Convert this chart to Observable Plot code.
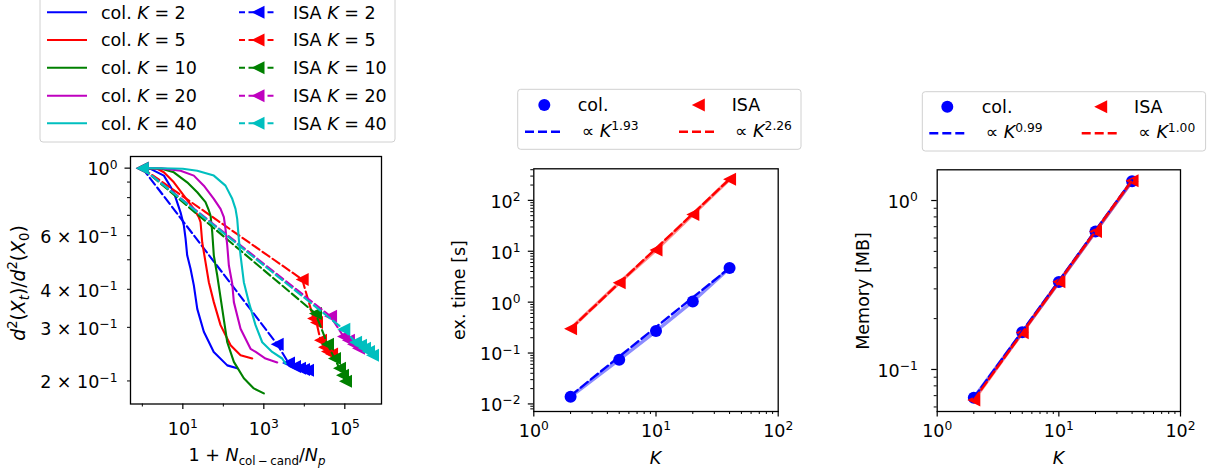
<!DOCTYPE html>
<html><head><meta charset="utf-8">
<script src="https://cdn.jsdelivr.net/npm/d3@7"></script>
<script src="https://cdn.jsdelivr.net/npm/@observablehq/plot@0.6"></script>
<style>
body{margin:0;background:#fff;}
#wrap{position:relative;width:1212px;height:475px;overflow:hidden;font-family:"DejaVu Sans",sans-serif;}
</style></head><body><div id="wrap"></div>
<script>
// ---------------- DATA ----------------
const Ks = [2, 5, 10, 20, 40];
const kLabels = ["2", "5", "10", "20", "40"];

// Panel 1: convergence curves (col. = solid, ISA = dashed with markers)
const col_K2_x  = [1, 1.59, 3.40, 6.0, 8.77, 10.6, 11.7, 12.8, 15.5, 18.7, 22.7, 33, 58, 125, 220];
const col_K2_y  = [1, 0.994, 0.945, 0.833, 0.716, 0.648, 0.586, 0.517, 0.467, 0.412, 0.345, 0.290, 0.249, 0.225, 0.220];
const col_K5_x  = [1, 2.33, 3.40, 6.0, 10.6, 18.7, 24.8, 27.4, 30.1, 36.3, 43.9, 58.2, 85.3, 151, 266, 517];
const col_K5_y  = [1, 0.995, 0.969, 0.898, 0.813, 0.735, 0.690, 0.664, 0.571, 0.491, 0.422, 0.363, 0.305, 0.262, 0.243, 0.237];
const col_K10_x = [1, 3.0, 6.0, 12.8, 22.7, 36.3, 43.9, 48.3, 53.2, 58.2, 70.7, 94, 125, 182, 321, 566, 1000];
const col_K10_y = [1, 0.995, 0.969, 0.898, 0.833, 0.773, 0.726, 0.699, 0.616, 0.517, 0.444, 0.345, 0.268, 0.231, 0.204, 0.189, 0.182];
const col_K20_x = [1, 3.0, 8.77, 18.7, 33, 58.2, 85.3, 103, 113, 125, 137, 166, 182, 266, 470, 631, 1100, 2140];
const col_K20_y = [1, 0.998, 0.981, 0.945, 0.876, 0.793, 0.735, 0.690, 0.632, 0.557, 0.479, 0.417, 0.363, 0.297, 0.255, 0.249, 0.237, 0.230];
const col_K40_x = [1, 3.0, 10, 22.7, 58.2, 113, 166, 200, 220, 241, 266, 321, 426, 624, 913, 1610, 2845, 3435];
const col_K40_y = [1, 0.999, 0.995, 0.981, 0.945, 0.876, 0.793, 0.735, 0.681, 0.586, 0.517, 0.422, 0.363, 0.305, 0.268, 0.249, 0.237, 0.228];

const isa_K2_x  = [1, 2140, 4070, 5730, 7610, 9550, 12000];
const isa_K2_y  = [1, 0.264, 0.229, 0.223, 0.220, 0.218, 0.217];
const isa_K5_x  = [1, 8870, 16900, 20000, 25100, 31500, 37400, 47000];
const isa_K5_y  = [1, 0.431, 0.321, 0.311, 0.272, 0.258, 0.250, 0.245];
const isa_K10_x = [1, 18900, 37400, 55700, 74000, 87700, 104000];
const isa_K10_y = [1, 0.333, 0.264, 0.237, 0.220, 0.209, 0.1995];
const isa_K20_x = [1, 44400, 92900, 123000, 164000, 218000];
const isa_K20_y = [1, 0.326, 0.280, 0.272, 0.264, 0.256];
const isa_K40_x = [1, 94400, 184000, 244000, 306000, 385000, 483000];
const isa_K40_y = [1, 0.2955, 0.268, 0.262, 0.256, 0.250, 0.243];

// Panel 2: execution time [s]
const time_col = [0.0139, 0.074, 0.27, 1.03, 4.7];
const time_isa = [0.30, 2.4, 10.6, 53, 260];
const fit_K = [2, 40];
const time_col_fit = [0.0145, 4.7];
const time_isa_fit = [0.30, 261];
const time_col_exp = "1.93";
const time_isa_exp = "2.26";

// Panel 3: memory [MB]
const mem_col = [0.068, 0.166, 0.329, 0.655, 1.30];
const mem_isa = [0.066, 0.165, 0.33, 0.655, 1.31];
const mem_col_fit = [0.068, 1.32];
const mem_isa_fit = [0.066, 1.32];
const mem_col_exp = "0.99";
const mem_isa_exp = "1.00";

// tick labels
const p1XTicks = [10, 1000, 100000];
const p1XTickLabels = ["10^1", "10^3", "10^5"];
const p1XMinor = [1, 100, 10000];
const p1YMajor = [1];
const p1YMajorLabels = ["10^0"];
const p1YMinor = [0.2, 0.3, 0.4, 0.5, 0.6, 0.7, 0.8, 0.9];
const p1YMinorLabels = ["2 × 10^-1", "3 × 10^-1", "4 × 10^-1", "", "6 × 10^-1", "", "", ""];
const kTicks = [1, 10, 100];
const kTickLabels = ["10^0", "10^1", "10^2"];
const timeTicks = [0.01, 0.1, 1, 10, 100];
const timeTickLabels = ["10^-2", "10^-1", "10^0", "10^1", "10^2"];
const memTicks = [0.1, 1];
const memTickLabels = ["10^-1", "10^0"];

// ---------------- STYLE ----------------
const FS = 17.5, SUPFS = 12.3, SUPDY = -6.8, SUBDY = 4;
const colors = ["#0000ff", "#ff0000", "#008000", "#bf00bf", "#00bfbf"];
const DASH = "8.5,3.7";
const STYLE = {fontFamily: '"DejaVu Sans", sans-serif', fontSize: FS + "px", color: "black", background: "transparent", overflow: "visible"};
const triSym = {draw(ctx, size) { const h = Math.sqrt(size / Math.PI); ctx.moveTo(-h, 0); ctx.lineTo(h, -h); ctx.lineTo(h, h); ctx.closePath(); }};

function minorTicks(lo, hi) {
  const out = [];
  for (let e = Math.floor(Math.log10(lo)); e <= Math.ceil(Math.log10(hi)); e++)
    for (let m = 2; m <= 9; m++) { const v = +(m * Math.pow(10, e)).toPrecision(6); if (v >= lo && v <= hi) out.push(v); }
  return out;
}
const lab = (ticks, labels) => d => { const i = ticks.indexOf(d); return i < 0 ? "" : labels[i]; };

const wrap = document.getElementById("wrap");
const SVGNS = "http://www.w3.org/2000/svg";
function supify(svg, yAxisEm) {
  svg.querySelectorAll("text").forEach(t => {
    const s = t.textContent;
    const i = s.indexOf("^");
    if (i < 0) return;
    const base = s.slice(0, i), exp = s.slice(i + 1).replace("-", "\u2212");
    while (t.firstChild) t.removeChild(t.firstChild);
    t.appendChild(document.createTextNode(base));
    const ts = document.createElementNS(SVGNS, "tspan");
    ts.setAttribute("dy", String(SUPDY));
    ts.setAttribute("font-size", String(SUPFS));
    ts.textContent = exp;
    t.appendChild(ts);
  });
  svg.querySelectorAll('g[aria-label="y-axis tick label"] text').forEach(t => t.setAttribute("y", yAxisEm));
}
function place(el, left) { el.style.position = "absolute"; el.style.left = left + "px"; el.style.top = "0px"; wrap.appendChild(el); }

// ---------------- PANEL 1 ----------------
const colXs = [col_K2_x, col_K5_x, col_K10_x, col_K20_x, col_K40_x];
const colYs = [col_K2_y, col_K5_y, col_K10_y, col_K20_y, col_K40_y];
const isaXs = [isa_K2_x, isa_K5_x, isa_K10_x, isa_K20_x, isa_K40_x];
const isaYs = [isa_K2_y, isa_K5_y, isa_K10_y, isa_K20_y, isa_K40_y];
const p1Marks = [];
Ks.forEach((K, i) => {
  const colRows = colXs[i].map((x, j) => ({x, y: colYs[i][j]}));
  const isaRows = isaXs[i].map((x, j) => ({x, y: isaYs[i][j]}));
  p1Marks.push(Plot.line(colRows, {x: "x", y: "y", stroke: colors[i], strokeWidth: 2.1}));
  p1Marks.push(Plot.line(isaRows, {x: "x", y: "y", stroke: colors[i], strokeWidth: 2.1, strokeDasharray: DASH}));
  p1Marks.push(Plot.dot(isaRows, {x: "x", y: "y", fill: colors[i], symbol: triSym, r: 6.5}));
});
const p1 = Plot.plot({
  width: 400, height: 475, marginLeft: 130, marginRight: 19, marginTop: 156, marginBottom: 71.5,
  style: STYLE,
  x: {type: "log", domain: [0.51, 8.05e5]},
  y: {type: "log", domain: [0.168, 1.092]},
  marks: [
    Plot.axisX({ticks: p1XTicks, tickFormat: lab(p1XTicks, p1XTickLabels), tickSize: 5.5, tickPadding: 13.2, label: null, strokeWidth: 1.2}),
    Plot.axisX({ticks: p1XMinor, tickFormat: () => "", tickSize: 3, label: null, strokeWidth: 1}),
    Plot.axisY({ticks: p1YMajor, tickFormat: lab(p1YMajor, p1YMajorLabels), tickSize: 5.5, tickPadding: 7.5, label: null, strokeWidth: 1.2}),
    Plot.axisY({ticks: p1YMinor, tickFormat: lab(p1YMinor, p1YMinorLabels), tickSize: 3, tickPadding: 10, label: null, strokeWidth: 1}),
    ...p1Marks,
    Plot.frame({stroke: "black", strokeWidth: 1.3})
  ]
});
supify(p1, "0.42em");
place(p1, 0);

// ---------------- PANELS 2 & 3 ----------------
function kPanel({left, width, mL, mR, mT, mB, yDomain, yTicks, yTickLabels, col, isa, colFit, isaFit, yPad}) {
  const colRows = Ks.map((K, i) => ({K, v: col[i]}));
  const isaRows = Ks.map((K, i) => ({K, v: isa[i]}));
  const colFitRows = fit_K.map((K, i) => ({K, v: colFit[i]}));
  const isaFitRows = fit_K.map((K, i) => ({K, v: isaFit[i]}));
  const svg = Plot.plot({
    width, height: 475, marginLeft: mL, marginRight: mR, marginTop: mT, marginBottom: mB,
    style: STYLE,
    x: {type: "log", domain: [1, 100]},
    y: {type: "log", domain: yDomain},
    marks: [
      Plot.axisX({ticks: kTicks, tickFormat: lab(kTicks, kTickLabels), tickSize: 5.5, tickPadding: 7.2, label: null, strokeWidth: 1.2}),
      Plot.axisX({ticks: minorTicks(1, 100), tickFormat: () => "", tickSize: 3, label: null, strokeWidth: 1}),
      Plot.axisY({ticks: yTicks, tickFormat: lab(yTicks, yTickLabels), tickSize: 5.5, tickPadding: yPad, label: null, strokeWidth: 1.2}),
      Plot.axisY({ticks: minorTicks(yDomain[0], yDomain[1]), tickFormat: () => "", tickSize: 3, label: null, strokeWidth: 1}),
      Plot.line(colRows, {x: "K", y: "v", stroke: colors[0], strokeWidth: 3.5, strokeOpacity: 0.45}),
      Plot.dot(colRows, {x: "K", y: "v", fill: colors[0], r: 6}),
      Plot.line(isaRows, {x: "K", y: "v", stroke: colors[1], strokeWidth: 3.5, strokeOpacity: 0.45}),
      Plot.dot(isaRows, {x: "K", y: "v", fill: colors[1], symbol: triSym, r: 6.5}),
      Plot.line(colFitRows, {x: "K", y: "v", stroke: colors[0], strokeWidth: 2.4, strokeDasharray: "9,4"}),
      Plot.line(isaFitRows, {x: "K", y: "v", stroke: colors[1], strokeWidth: 2.4, strokeDasharray: "9,4"}),
      Plot.frame({stroke: "black", strokeWidth: 1.3})
    ]
  });
  supify(svg, "0.42em");
  place(svg, left);
}
kPanel({left: 420, width: 390, mL: 113.3, mR: 32.3, mT: 168.3, mB: 64, yDomain: [0.0071, 417],
  yTicks: timeTicks, yTickLabels: timeTickLabels, col: time_col, isa: time_isa, colFit: time_col_fit, isaFit: time_isa_fit, yPad: 7.8});
kPanel({left: 830, width: 382, mL: 106.7, mR: 32, mT: 169.3, mB: 64, yDomain: [0.0564, 1.52],
  yTicks: memTicks, yTickLabels: memTickLabels, col: mem_col, isa: mem_isa, colFit: mem_col_fit, isaFit: mem_isa_fit, yPad: 13.9});

// ---------------- OVERLAY: legends & axis labels ----------------
const ov = d3.select(wrap).append("svg").attr("width", 1212).attr("height", 475)
  .style("position", "absolute").style("left", "0px").style("top", "0px")
  .attr("font-family", '"DejaVu Sans", sans-serif').attr("font-size", FS).attr("fill", "black");

function rich(g, x, y, segs, anchor = "start", transform = null, fs = FS, sfs = SUPFS) {
  const t = g.append("text").attr("text-anchor", anchor).attr("font-size", fs);
  if (transform) t.attr("transform", transform); else t.attr("x", x).attr("y", y);
  let shift = 0;
  const k = fs / FS;
  for (const s of segs) {
    const target = (s.sup ? SUPDY : s.sub ? SUBDY : 0) * k;
    const ts = t.append("tspan").text(s.t).attr("dy", target - shift);
    shift = target;
    if (s.it) ts.attr("font-style", "italic");
    if (s.sup || s.sub) ts.attr("font-size", sfs);
  }
  return t;
}
const triPath = (cx, cy, h) => `M${cx - h},${cy}L${cx + h},${cy - h}L${cx + h},${cy + h}Z`;

// Legend 1
const L1 = ov.append("g");
L1.append("rect").attr("x", 40).attr("y", -4).attr("width", 355).attr("height", 146).attr("rx", 3)
  .attr("fill", "white").attr("fill-opacity", 0.8).attr("stroke", "#d0d0d0").attr("stroke-width", 1);
const rowY = [12.3, 40, 67.7, 95.7, 123.3];
Ks.forEach((K, i) => {
  const y = rowY[i];
  L1.append("line").attr("x1", 47).attr("x2", 87).attr("y1", y).attr("y2", y).attr("stroke", colors[i]).attr("stroke-width", 2.1);
  rich(L1, 101, y + 6.3, [{t: "col. "}, {t: "K", it: true}, {t: " = " + kLabels[i]}]);
  L1.append("line").attr("x1", 239).attr("x2", 277).attr("y1", y).attr("y2", y).attr("stroke", colors[i]).attr("stroke-width", 2.1).attr("stroke-dasharray", "6,3.5");
  L1.append("path").attr("d", triPath(258, y, 6.5)).attr("fill", colors[i]);
  rich(L1, 293, y + 6.3, [{t: "ISA "}, {t: "K", it: true}, {t: " = " + kLabels[i]}]);
});

function kLegend(x0, y0, w, h, r1, r2, colExp, isaExp, off) {
  const g = ov.append("g");
  g.append("rect").attr("x", x0).attr("y", y0).attr("width", w).attr("height", h).attr("rx", 3)
    .attr("fill", "white").attr("fill-opacity", 0.8).attr("stroke", "#d0d0d0").attr("stroke-width", 1);
  g.append("circle").attr("cx", x0 + off.c).attr("cy", r1).attr("r", 6).attr("fill", colors[0]);
  rich(g, x0 + off.colT, r1 + 6.3, [{t: "col."}]);
  g.append("path").attr("d", triPath(x0 + off.tri, r1, 6.5)).attr("fill", colors[1]);
  rich(g, x0 + off.isaT, r1 + 6.3, [{t: "ISA"}]);
  g.append("line").attr("x1", x0 + off.l1a).attr("x2", x0 + off.l1b).attr("y1", r2).attr("y2", r2).attr("stroke", colors[0]).attr("stroke-width", 2.4).attr("stroke-dasharray", "9,4");
  rich(g, x0 + off.t1, r2 + 5, [{t: "\u221d "}, {t: "K", it: true}, {t: colExp, sup: true}]);
  g.append("line").attr("x1", x0 + off.l2a).attr("x2", x0 + off.l2b).attr("y1", r2).attr("y2", r2).attr("stroke", colors[1]).attr("stroke-width", 2.4).attr("stroke-dasharray", "9,4");
  rich(g, x0 + off.t2, r2 + 5, [{t: "\u221d "}, {t: "K", it: true}, {t: isaExp, sup: true}]);
}
kLegend(517.7, 89.3, 283.3, 60, 105, 131.7, time_col_exp, time_isa_exp,
  {c: 26.6, colT: 60, tri: 180.6, isaT: 214, l1a: 7.3, l1b: 45, t1: 64, l2a: 161.3, l2b: 198.3, t2: 217.3});
kLegend(922.3, 91.7, 283.3, 59.3, 106.7, 133.3, mem_col_exp, mem_isa_exp,
  {c: 25, colT: 59.4, tri: 178.4, isaT: 211.7, l1a: 7, l1b: 44.4, t1: 63.4, l2a: 159.4, l2b: 197, t2: 216});

// axis labels
rich(ov, 0, 0, [{t: "d", it: true}, {t: "2", sup: true}, {t: "("}, {t: "X", it: true}, {t: "t", it: true, sub: true}, {t: ")/"},
  {t: "d", it: true}, {t: "2", sup: true}, {t: "("}, {t: "X", it: true}, {t: "0", sub: true}, {t: ")"}], "middle", "translate(24.5,283) rotate(-90)", 18.8, 13.2);
rich(ov, 257, 460.5, [{t: "1 + "}, {t: "N", it: true}, {t: "col\u2009\u2212\u2009cand", sub: true}, {t: "/"}, {t: "N", it: true}, {t: "p", it: true, sub: true}], "middle", null, FS, 11.8);
rich(ov, 0, 0, [{t: "ex. time [s]"}], "middle", "translate(465,290) rotate(-90)");
rich(ov, 655.5, 463.5, [{t: "K", it: true}], "middle");
rich(ov, 0, 0, [{t: "Memory [MB]"}], "middle", "translate(869,291) rotate(-90)");
rich(ov, 1058.5, 463.5, [{t: "K", it: true}], "middle");
</script>
</body></html>
